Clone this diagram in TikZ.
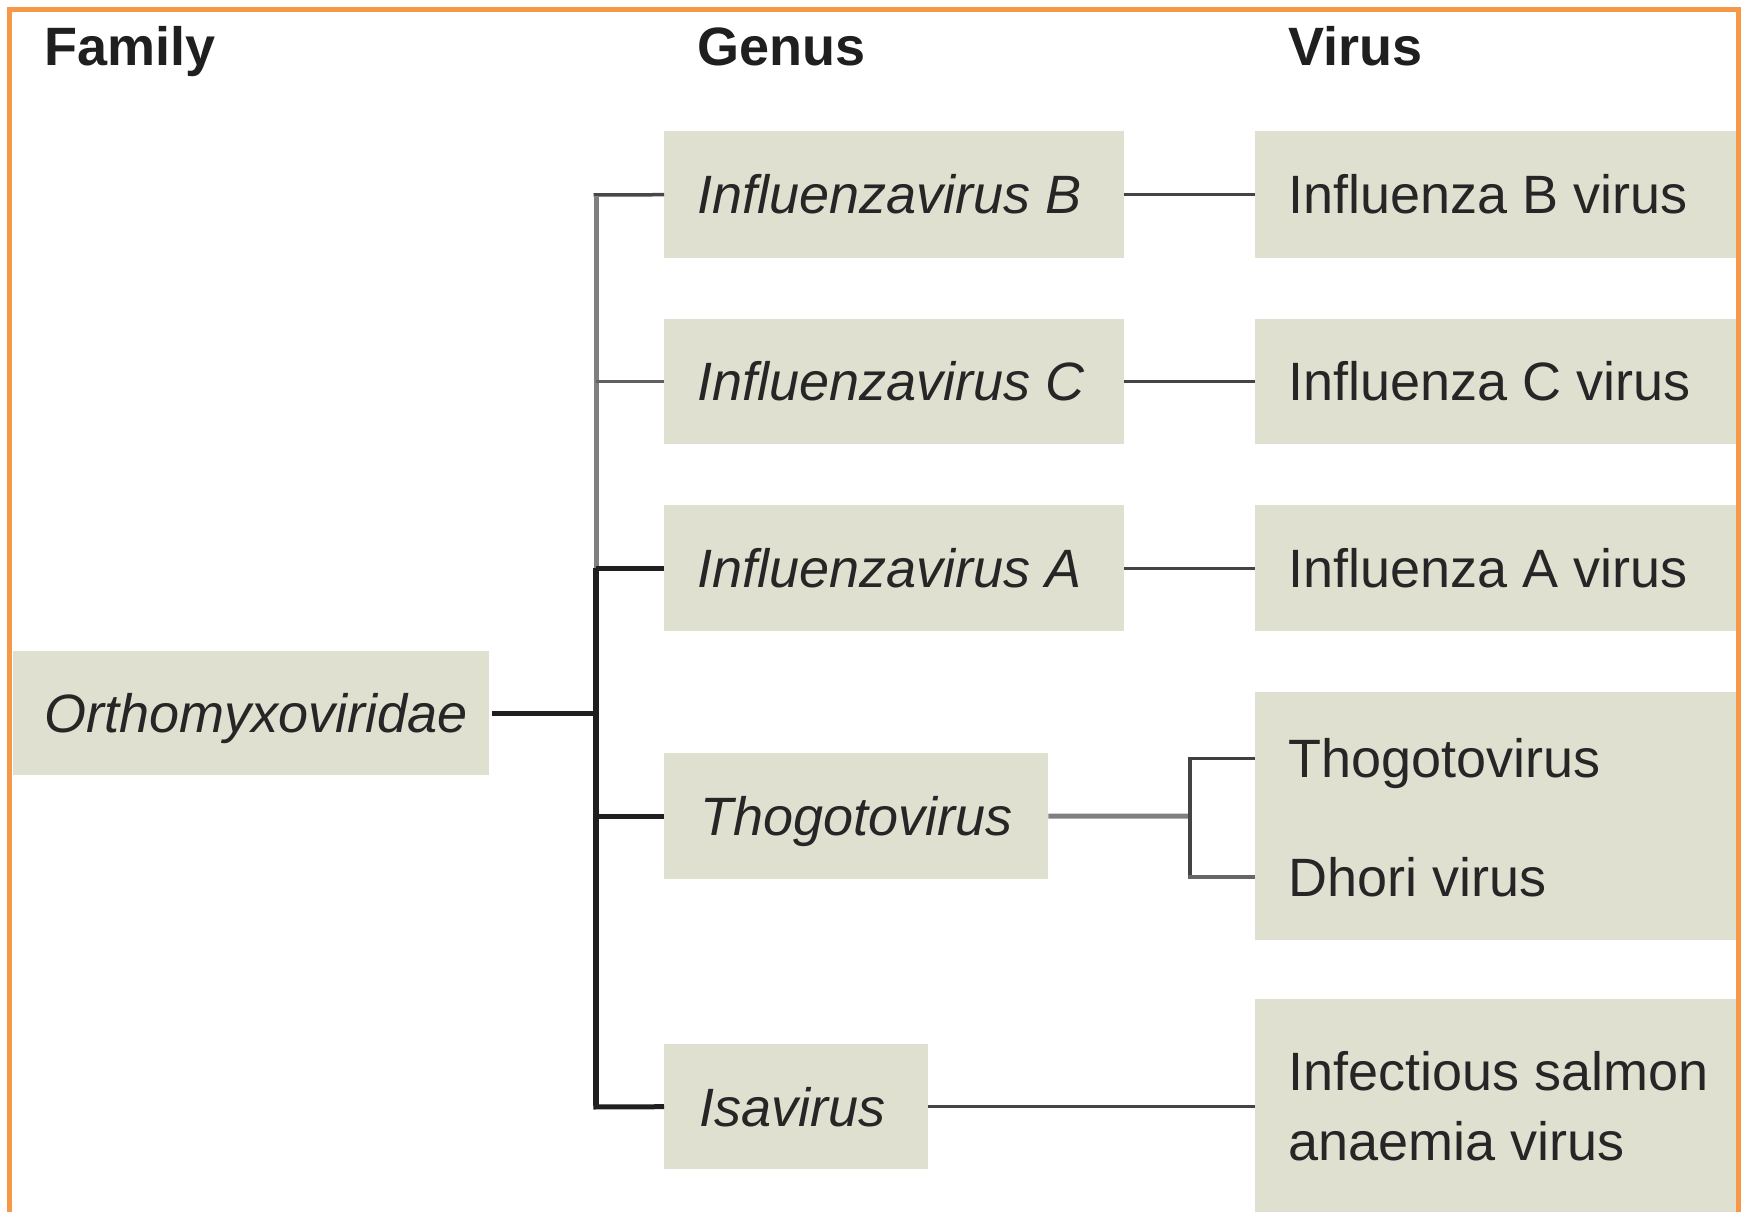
\documentclass[tikz,border=0pt]{standalone}
\usepackage{fontspec}
\setmainfont{Liberation Sans}
\definecolor{boxfill}{RGB}{224,224,208}
\definecolor{txtc}{RGB}{38,38,38}
\definecolor{framec}{RGB}{247,152,72}
\definecolor{lgray}{RGB}{128,128,128}
\definecolor{dgray}{RGB}{68,68,68}
\begin{document}
\begin{tikzpicture}[x=1pt,y=-1pt,
  box/.style={fill=boxfill, draw=none, inner sep=0pt, anchor=north west},
  lbl/.style={font=\fontsize{54}{64}\selectfont, text=txtc, inner sep=0pt, anchor=base west},
  genlbl/.style={font=\fontsize{54}{64}\selectfont\itshape, text=txtc, inner sep=0pt, anchor=base west},
  head/.style={font=\fontsize{54}{64}\selectfont\bfseries, text=black!88, inner sep=0pt, anchor=base west},
  thin link/.style={draw=dgray, line width=3pt},
  thick link/.style={draw=black!88, line width=5pt},
  gray link/.style={draw=lgray, line width=5pt}]
\useasboundingbox (0,0) rectangle (1741,1212);
\fill[white] (0,0) rectangle (1741,1212);

% headers
\node[head] (hFam) at (44,66) {Family};
\node[head] (hGen) at (697,66) {Genus};
\node[head] (hVir) at (1288,66) {Virus};

% boxes
\node[box, minimum width=476pt, minimum height=124pt] (ortho) at (13,651) {};
\node[box, minimum width=460pt, minimum height=127pt] (gB) at (664,131) {};
\node[box, minimum width=460pt, minimum height=125pt] (gC) at (664,319) {};
\node[box, minimum width=460pt, minimum height=126pt] (gA) at (664,505) {};
\node[box, minimum width=384pt, minimum height=126pt] (gT) at (664,753) {};
\node[box, minimum width=264pt, minimum height=125pt] (gI) at (664,1044) {};
\node[box, minimum width=483pt, minimum height=127pt] (vB) at (1255,131) {};
\node[box, minimum width=483pt, minimum height=125pt] (vC) at (1255,319) {};
\node[box, minimum width=483pt, minimum height=126pt] (vA) at (1255,505) {};
\node[box, minimum width=483pt, minimum height=248pt] (vT) at (1255,692) {};
\node[box, minimum width=483pt, minimum height=214pt] (vI) at (1255,999) {};

% trunk coordinates
\coordinate (trunk) at (596,0);
\coordinate (jTop) at (596,195);
\coordinate (jA) at (596,568);
\coordinate (jBot) at (596,1107);
\coordinate (tj) at (1190,816);
\coordinate (tjTop) at (1190,758);
\coordinate (tjBot) at (1190,877);

% family to trunk
\draw[thick link, shorten <=3pt] (ortho.east) -- (ortho.east -| trunk);
\draw[gray link] ([yshift=-1.75pt]jTop) -- (jA);
\draw[thick link, line width=5.5pt] (jA) -- ([yshift=2.5pt]jBot);
\draw[draw=black!72, line width=3.5pt] ([xshift=-2.5pt]jTop) -- (gB.west);
\draw[draw=black!62, line width=3pt] (gC.west -| trunk) -- (gC.west);
\draw[thick link] (gA.west -| trunk) -- (gA.west);
\draw[thick link] (gT.west -| trunk) -- (gT.west);
\draw[thick link] ([xshift=-2.75pt]jBot) -- (gI.west);

% genus to virus
\draw[thin link] (gB.east) -- (vB.west |- gB.east);
\draw[thin link] (gC.east) -- (vC.west |- gC.east);
\draw[thin link] (gA.east) -- (vA.west |- gA.east);
\draw[gray link] (gT.east) -- (tj);
\draw[draw=dgray, line width=3.5pt] ([yshift=-1.5pt]tjTop) -- ([yshift=2pt]tjBot);
\draw[draw=black!75, line width=3pt] ([xshift=-1.75pt]tjTop) -- (vT.west |- tjTop);
\draw[draw=black!60, line width=4pt] ([xshift=-1.75pt]tjBot) -- (vT.west |- tjBot);
\draw[thin link] (gI.east) -- (vI.west |- gI.east);

% texts
\node[genlbl] (tOrtho) at (44,732) {Orthomyxoviridae};
\node[genlbl] (tgB) at (697,214) {Influenzavirus B};
\node[genlbl] (tgC) at (697,400) {Influenzavirus C};
\node[genlbl] (tgA) at (697,587) {Influenzavirus A};
\node[genlbl] (tgT) at (700,835) {Thogotovirus};
\node[genlbl] (tgI) at (699,1126) {Isavirus};
\node[lbl] (tvB) at (1288,214) {Influenza B virus};
\node[lbl] (tvC) at (1288,400) {Influenza C virus};
\node[lbl] (tvA) at (1288,587) {Influenza A virus};
\node[lbl] (tvT1) at (1288,777) {Thogotovirus};
\node[lbl] (tvT2) at (1288,896) {Dhori virus};
\node[lbl] (tvI1) at (1288,1090) {Infectious salmon};
\node[lbl] (tvI2) at (1288,1160) {anaemia virus};

% frame
\draw[framec, line width=5.5pt] (9.5,1215) -- (9.5,9.5) -- (1738.5,9.5) -- (1738.5,1215);
\end{tikzpicture}
\end{document}
